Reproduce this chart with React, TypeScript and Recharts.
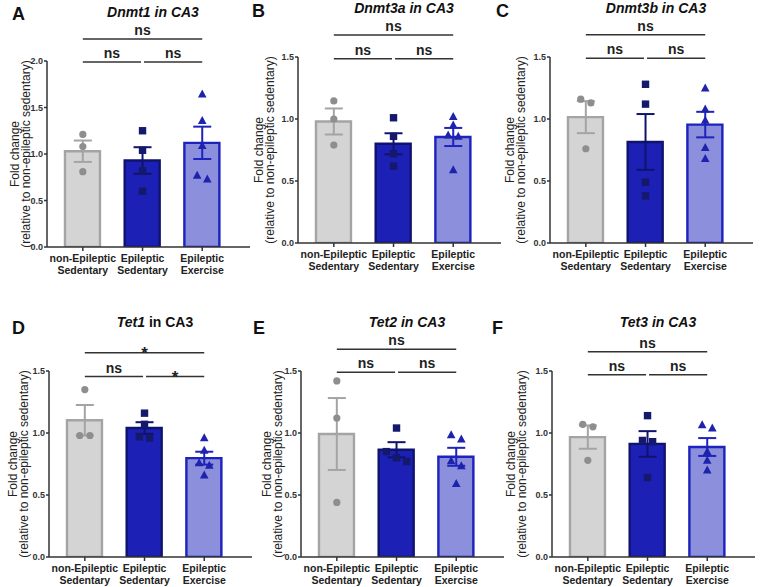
import React from "react";
import {
  ComposedChart,
  Bar,
  Cell,
  Scatter,
  ErrorBar,
  XAxis,
  YAxis,
  ReferenceLine,
} from "recharts";

const FONT = "Arial, 'Liberation Sans', Helvetica, sans-serif";

// groups on the x axis
const groupTop = ["non-Epileptic", "Epileptic", "Epileptic"];
const groupBottom = ["Sedentary", "Sedentary", "Exercise"];

const ticksTo2 = [0, 0.5, 1, 1.5, 2];
const ticksTo15 = [0, 0.5, 1, 1.5];

// fold change (relative to non-epileptic sedentary), mean / SEM / animals
const dnmt1Mean = [1.03, 0.93, 1.12];
const dnmt1Sem = [0.115, 0.143, 0.174];
const dnmt1Points = [
  [1.21, 1.08, 0.81],
  [1.25, 1.04, 0.82, 0.6],
  [1.645, 1.36, 1.09, 0.77, 0.73],
];

const dnmt3aMean = [0.98, 0.8, 0.855];
const dnmt3aSem = [0.105, 0.085, 0.073];
const dnmt3aPoints = [
  [1.146, 1.0, 0.79],
  [1.01, 0.86, 0.72, 0.62],
  [1.02, 0.95, 0.87, 0.86, 0.59],
];

const dnmt3bMean = [1.015, 0.815, 0.955];
const dnmt3bSem = [0.129, 0.225, 0.103];
const dnmt3bPoints = [
  [1.16, 1.13, 0.76],
  [1.28, 1.12, 0.49, 0.38],
  [1.25, 1.08, 0.99, 0.77, 0.68],
];

const tet1Mean = [1.103, 1.04, 0.797];
const tet1Sem = [0.123, 0.047, 0.052];
const tet1Points = [
  [1.35, 0.98, 0.98],
  [1.16, 1.07, 0.97, 0.96],
  [0.96, 0.86, 0.76, 0.74, 0.66],
];

const tet2Mean = [0.992, 0.865, 0.808];
const tet2Sem = [0.29, 0.061, 0.0725];
const tet2Points = [
  [1.42, 1.12, 0.44],
  [1.04, 0.85, 0.8, 0.77],
  [0.986, 0.951, 0.776, 0.735, 0.592],
];

const tet3Mean = [0.967, 0.912, 0.887];
const tet3Sem = [0.094, 0.103, 0.072];
const tet3Points = [
  [1.07, 1.05, 0.78],
  [1.14, 0.94, 0.93, 0.64],
  [1.065, 1.04, 0.85, 0.78, 0.7],
];

// significance: [1 vs 3, 1 vs 2, 2 vs 3]
const sigNs = ["ns", "ns", "ns"];
const sigTet1 = ["*", "ns", "*"];

const fills = ["#d4d4d4", "#1c20b4", "#8b8fdc"];
const strokes = ["#a4a4a4", "#10136e", "#1d23bd"];
const dotColors = ["#8e8e8e", "#15196c", "#1d23ad"];

// spread animals with near-equal values side by side
function spreadPoints(values: number[], g: number, threshold: number) {
  const order = values.map((_, i) => i).sort((a, b) => values[b] - values[a]);
  const offsets = new Array(values.length).fill(0);
  let cluster = [order[0]];
  const flush = () => {
    const n = cluster.length;
    cluster.forEach((idx, k) => {
      offsets[idx] = (k - (n - 1) / 2) * 0.17;
    });
  };
  for (let k = 1; k < order.length; k++) {
    if (values[order[k - 1]] - values[order[k]] < threshold) cluster.push(order[k]);
    else {
      flush();
      cluster = [order[k]];
    }
  }
  flush();
  return values.map((v, i) => ({ x: g + 1 + offsets[i], y: v }));
}

const makeDot = (kind: number, color: string) => (p: any) => {
  const { cx, cy } = p;
  if (cx == null || cy == null) return <g />;
  if (kind === 0) return <circle cx={cx} cy={cy} r={3.6} fill={color} />;
  if (kind === 1)
    return <rect x={cx - 3.7} y={cy - 3.7} width={7.4} height={7.4} fill={color} />;
  return (
    <polygon
      points={`${cx},${cy - 4.6} ${cx - 4.3},${cy + 3.4} ${cx + 4.3},${cy + 3.4}`}
      fill={color}
    />
  );
};

const GroupTick = (props: any) => {
  const { x, y, payload } = props;
  const i = Math.round(payload.value) - 1;
  const style = { fontSize: 10.5, fontWeight: "bold" as const, fill: "#222" };
  return (
    <g>
      <text x={x} y={y + 9} textAnchor="middle" {...style}>
        {groupTop[i]}
      </text>
      <text x={x} y={y + 21} textAnchor="middle" {...style}>
        {groupBottom[i]}
      </text>
    </g>
  );
};

const sigLabel = (text: string) => (p: any) => {
  const vb = p.viewBox || {};
  const cx = (vb.x || 0) + (vb.width || 0) / 2;
  const y = vb.y || 0;
  const star = text === "*";
  return (
    <text
      x={cx}
      y={star ? y + 6 : y - 4}
      textAnchor="middle"
      fontSize={star ? 17 : 14}
      fontWeight="bold"
      fill="#222"
    >
      {text}
    </text>
  );
};

const foldLabel = (gap: number) => (p: any) => {
  const vb = p.viewBox || {};
  const ax = (vb.x || 0) + (vb.width || 0);
  const cy = (vb.y || 0) + (vb.height || 0) / 2;
  const x1 = ax - gap;
  const x2 = ax - gap + 11;
  return (
    <g>
      <text
        x={x1}
        y={cy}
        transform={`rotate(-90 ${x1} ${cy})`}
        textAnchor="middle"
        dominantBaseline="central"
        fontSize={12}
        fill="#222"
      >
        Fold change
      </text>
      <text
        x={x2}
        y={cy}
        transform={`rotate(-90 ${x2} ${cy})`}
        textAnchor="middle"
        dominantBaseline="central"
        fontSize={12}
        fill="#222"
      >
        (relative to non-epileptic sedentary)
      </text>
    </g>
  );
};

interface PanelProps {
  letter: string;
  letterX: number;
  letterY: number;
  gene: string;
  italicAll: boolean;
  left: number;
  top: number;
  yTicks: number[];
  mean: number[];
  sem: number[];
  points: number[][];
  sig: string[];
  upper: number;
  lower: number;
  labelGap: number;
}

const X_DOMAIN: [number, number] = [0.4, 3.8];

const Panel: React.FC<PanelProps> = (p) => {
  const yMax = p.yTicks[p.yTicks.length - 1];
  const threshold = (7 * yMax) / 186;
  const bars = p.mean.map((m, i) => ({ x: i + 1, mean: m }));
  const axisStyle = { stroke: "#333", strokeWidth: 1.5 };

  return (
    <>
      <div
        style={{
          position: "absolute",
          left: p.letterX,
          top: p.letterY,
          fontSize: 18,
          lineHeight: "18px",
          fontWeight: "bold",
          color: "#111",
        }}
      >
        {p.letter}
      </div>
      <div style={{ position: "absolute", left: p.left, top: p.top, width: 254, height: 290 }}>
        <ComposedChart
          width={254}
          height={290}
          data={bars}
          margin={{ top: 61, right: 4, bottom: 3, left: 0 }}
        >
          <XAxis
            type="number"
            dataKey="x"
            domain={X_DOMAIN}
            ticks={[1, 2, 3]}
            allowDataOverflow
            height={40}
            tickSize={4}
            axisLine={axisStyle}
            tickLine={axisStyle}
            tick={<GroupTick />}
            interval={0}
          />
          {/* separate axis for the animals so jitter does not shrink the bars */}
          <XAxis
            xAxisId="pts"
            type="number"
            dataKey="x"
            domain={X_DOMAIN}
            allowDataOverflow
            hide
          />
          <YAxis
            type="number"
            domain={[0, yMax]}
            ticks={p.yTicks}
            allowDataOverflow
            width={47}
            tickSize={3}
            tickMargin={1}
            tickFormatter={(v: number) => v.toFixed(1)}
            tick={{ fontSize: 9, fontWeight: "bold", fill: "#333" }}
            axisLine={axisStyle}
            tickLine={axisStyle}
            label={{ content: foldLabel(p.labelGap) }}
          />
          <Bar dataKey="mean" barSize={35} isAnimationActive={false}>
            {bars.map((_, i) => (
              <Cell key={i} fill={fills[i]} stroke={strokes[i]} strokeWidth={2.4} />
            ))}
          </Bar>
          {p.points.map((vals, g) => (
            <Scatter
              key={`pts${g}`}
              xAxisId="pts"
              data={spreadPoints(vals, g, threshold)}
              dataKey="y"
              shape={makeDot(g, dotColors[g])}
              isAnimationActive={false}
            />
          ))}
          {p.mean.map((m, g) => (
            <Scatter
              key={`err${g}`}
              data={[{ x: g + 1, y: m, err: p.sem[g] }]}
              dataKey="y"
              shape={() => <g />}
              isAnimationActive={false}
            >
              <ErrorBar
                dataKey="err"
                direction="y"
                width={9}
                stroke={strokes[g]}
                strokeWidth={2}
              />
            </Scatter>
          ))}
          <ReferenceLine
            segment={[
              { x: 1, y: p.upper },
              { x: 3, y: p.upper },
            ]}
            ifOverflow="visible"
            stroke="#333"
            strokeWidth={1.5}
            label={{ content: sigLabel(p.sig[0]) }}
          />
          <ReferenceLine
            segment={[
              { x: 1, y: p.lower },
              { x: 1.975, y: p.lower },
            ]}
            ifOverflow="visible"
            stroke="#333"
            strokeWidth={1.5}
            label={{ content: sigLabel(p.sig[1]) }}
          />
          <ReferenceLine
            segment={[
              { x: 2.025, y: p.lower },
              { x: 3, y: p.lower },
            ]}
            ifOverflow="visible"
            stroke="#333"
            strokeWidth={1.5}
            label={{ content: sigLabel(p.sig[2]) }}
          />
        </ComposedChart>
        <div
          style={{
            position: "absolute",
            left: 153,
            top: 12,
            transform: "translate(-50%, -50%)",
            whiteSpace: "nowrap",
            fontSize: 14,
            lineHeight: "14px",
            fontWeight: "bold",
            color: "#111",
            fontStyle: p.italicAll ? "italic" : "normal",
          }}
        >
          <span style={{ fontStyle: "italic" }}>{p.gene}</span> in CA3
        </div>
      </div>
    </>
  );
};

export default function App() {
  const panels: PanelProps[] = [
    { letter: "A", letterX: 12, letterY: 5, gene: "Dnmt1", italicAll: true, left: 0, top: 0,
      yTicks: ticksTo2, mean: dnmt1Mean, sem: dnmt1Sem, points: dnmt1Points, sig: sigNs,
      upper: 2.237, lower: 1.99, labelGap: 32 },
    { letter: "B", letterX: 252, letterY: 2, gene: "Dnmt3a", italicAll: true, left: 251, top: -4,
      yTicks: ticksTo15, mean: dnmt3aMean, sem: dnmt3aSem, points: dnmt3aPoints, sig: sigNs,
      upper: 1.677, lower: 1.486, labelGap: 39 },
    { letter: "C", letterX: 496, letterY: 2, gene: "Dnmt3b", italicAll: true, left: 503, top: -4,
      yTicks: ticksTo15, mean: dnmt3bMean, sem: dnmt3bSem, points: dnmt3bPoints, sig: sigNs,
      upper: 1.68, lower: 1.489, labelGap: 40 },
    { letter: "D", letterX: 12, letterY: 319, gene: "Tet1", italicAll: false, left: 2, top: 310,
      yTicks: ticksTo15, mean: tet1Mean, sem: tet1Sem, points: tet1Points, sig: sigTet1,
      upper: 1.647, lower: 1.455, labelGap: 36 },
    { letter: "E", letterX: 253, letterY: 319, gene: "Tet2", italicAll: true, left: 254, top: 310,
      yTicks: ticksTo15, mean: tet2Mean, sem: tet2Sem, points: tet2Points, sig: sigNs,
      upper: 1.675, lower: 1.489, labelGap: 34 },
    { letter: "F", letterX: 492, letterY: 319, gene: "Tet3", italicAll: true, left: 505, top: 310,
      yTicks: ticksTo15, mean: tet3Mean, sem: tet3Sem, points: tet3Points, sig: sigNs,
      upper: 1.655, lower: 1.47, labelGap: 41 },
  ];

  return (
    <div
      style={{
        position: "absolute",
        left: 0,
        top: 0,
        width: 762,
        height: 587,
        background: "#fff",
        overflow: "hidden",
        fontFamily: FONT,
      }}
    >
      {panels.map((p) => (
        <Panel key={p.letter} {...p} />
      ))}
    </div>
  );
}
